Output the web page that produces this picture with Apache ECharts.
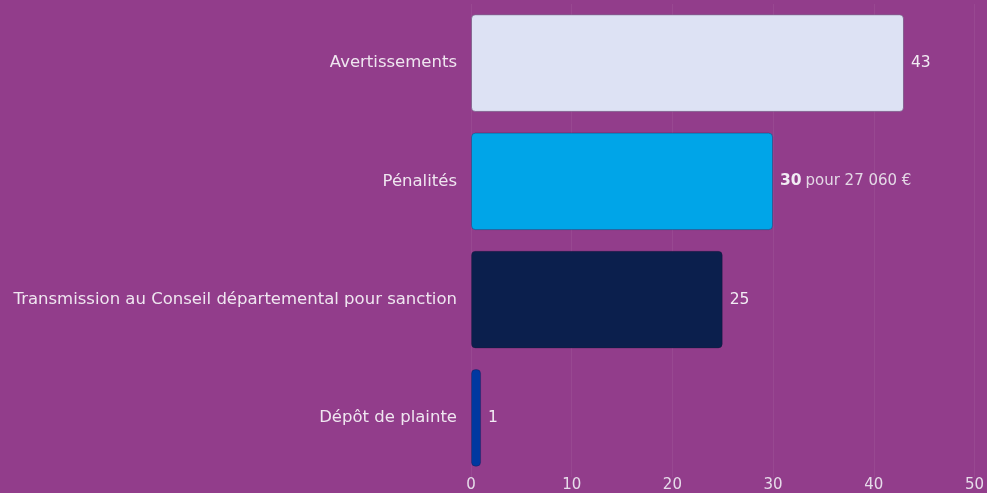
<!DOCTYPE html>
<html>
<head>
<meta charset="utf-8">
<script src="https://cdn.jsdelivr.net/npm/echarts@6/dist/echarts.min.js"></script>
<style>
  html, body { margin: 0; padding: 0; background: #923d8b; }
  #chart { width: 987px; height: 493px; }
</style>
</head>
<body>
<div id="chart"></div>
<script>
// Sanctions, from top to bottom
const categories = [
  'Avertissements',
  'Pénalités',
  'Transmission au Conseil départemental pour sanction',
  'Dépôt de plainte'
];
const values = [43, 30, 25, 1];
const barColors = ['#dde2f4', '#00a5e8', '#0b1f4d', '#0038a0'];
const valueSuffixes = ['', 'pour 27 060 €', '', ''];
const xTicks = { min: 0, max: 50, interval: 10 };

const FONT = '"DejaVu Sans", Verdana, sans-serif';

const chart = echarts.init(document.getElementById('chart'));

chart.setOption({
  backgroundColor: '#923d8b',
  animation: false,
  grid: { left: 471, right: 12, top: 4, bottom: 14 },
  xAxis: {
    type: 'value',
    min: xTicks.min,
    max: xTicks.max,
    interval: xTicks.interval,
    axisLine: { show: false },
    axisTick: { show: false },
    axisLabel: {
      color: '#e6dcea',
      fontFamily: FONT,
      fontSize: 15,
      margin: 1
    },
    splitLine: { lineStyle: { color: 'rgba(255,255,255,0.06)', width: 1 } }
  },
  yAxis: {
    type: 'category',
    inverse: true,
    data: categories,
    axisLine: { show: false },
    axisTick: { show: false },
    axisLabel: {
      color: '#efe6f0',
      fontFamily: FONT,
      fontSize: 16.5,
      margin: 14
    }
  },
  series: [{
    type: 'bar',
    barCategoryGap: '17.5%',
    data: values.map((v, i) => ({
      value: v,
      itemStyle: { color: barColors[i] }
    })),
    itemStyle: {
      borderColor: 'rgba(40,20,60,0.35)',
      borderWidth: 1,
      borderRadius: 4
    },
    label: {
      show: true,
      position: 'right',
      distance: 7,
      fontFamily: FONT,
      formatter: (p) => {
        const s = valueSuffixes[p.dataIndex];
        return s ? '{b|' + p.value + '} {s|' + s + '}' : '{v|' + p.value + '}';
      },
      rich: {
        v: { color: '#f2ecf4', fontSize: 15.5, fontFamily: FONT },
        b: { color: '#f2ecf4', fontSize: 15.5, fontWeight: 'bold', fontFamily: FONT },
        s: { color: '#e4d8e6', fontSize: 15, fontFamily: FONT }
      }
    }
  }]
});
</script>
</body>
</html>
